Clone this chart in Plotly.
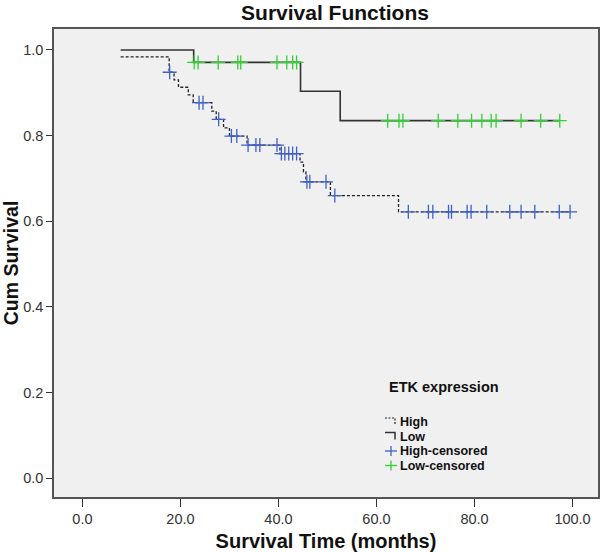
import plotly.graph_objects as go

# ---- data ----
start_time = 7.8

high_event_times = [7.8, 17.7, 18.7, 19.6, 21.6, 22.6, 26.4, 27.3, 28.8, 30.0,
                    33.6, 40.3, 44.4, 45.1, 45.6, 50.6, 64.5]
high_surv = [0.984, 0.948, 0.930, 0.913, 0.895, 0.877, 0.857, 0.838, 0.818, 0.799,
             0.778, 0.758, 0.738, 0.715, 0.692, 0.660, 0.622]
high_censor = [17.8, 23.8, 24.6, 27.8, 30.4, 31.5, 33.8, 35.4, 36.2, 39.7, 40.6,
               41.3, 42.1, 42.9, 43.7, 45.8, 46.4, 49.7, 51.5, 66.5, 70.6, 71.5,
               74.7, 75.3, 78.5, 79.3, 82.5, 87.2, 89.5, 92.3, 97.3, 99.5]

low_event_times = [22.7, 44.5, 52.6]
low_surv = [0.971, 0.9035, 0.835]
low_censor = [22.8, 23.6, 27.7, 31.7, 32.3, 39.7, 41.7, 42.9, 43.7, 62.3, 64.6,
              65.4, 72.6, 76.6, 79.4, 81.5, 83.4, 84.4, 89.5, 93.5, 97.4]

x_ticks = [0, 20, 40, 60, 80, 100]
y_ticks = [0.0, 0.2, 0.4, 0.6, 0.8, 1.0]

legend_title = "ETK expression"
legend_labels = ["High", "Low", "High-censored", "Low-censored"]


def step_curve(t0, s0, times, surv, t_end):
    xs, ys = [t0], [s0]
    for t, s in zip(times, surv):
        if t == t0:
            ys[-1] = s
            continue
        xs.append(t)
        ys.append(s)
    xs.append(t_end)
    ys.append(ys[-1])
    return xs, ys


def level_at(t, t0, s0, times, surv):
    s = s0
    for tt, ss in zip(times, surv):
        if tt <= t:
            s = ss
    return s


hx, hy = step_curve(start_time, 1.0, high_event_times, high_surv, max(high_censor))
lx, ly = step_curve(start_time, 1.0, low_event_times, low_surv, max(low_censor))

hcy = [level_at(t, start_time, 1.0, high_event_times, high_surv) for t in high_censor]
lcy = [level_at(t, start_time, 1.0, low_event_times, low_surv) for t in low_censor]

FONT = "Liberation Sans, Arial, sans-serif"
BLUE = "#3f5fc8"
GREEN = "#2fd32f"
LINE_H = "#222222"
LINE_L = "#333333"

# plot-area geometry (pixels) used for placing the hand-made legend
W, H = 600, 552
ML, MR, MT, MB = 54, 2, 29, 55
PW, PH = W - ML - MR, H - MT - MB


def px(x):
    return (x - ML) / PW


def py(y):
    return (H - MB - y) / PH


fig = go.Figure()
fig.add_trace(go.Scatter(x=hx, y=hy, mode="lines", line_shape="hv", name="High",
                         line=dict(color=LINE_H, width=1.3, dash="3px,2px")))
fig.add_trace(go.Scatter(x=lx, y=ly, mode="lines", line_shape="hv", name="Low",
                         line=dict(color=LINE_L, width=1.6)))
fig.add_trace(go.Scatter(x=high_censor, y=hcy, mode="markers", name="High-censored",
                         marker=dict(symbol="cross-thin", size=10,
                                     line=dict(color=BLUE, width=1.3))))
fig.add_trace(go.Scatter(x=low_censor, y=lcy, mode="markers", name="Low-censored",
                         marker=dict(symbol="cross-thin", size=10,
                                     line=dict(color=GREEN, width=1.3))))

# ---- hand-made legend (compact spacing like the reference) ----
TITLE_Y = 387
row_y = [422, 436.5, 451, 465.5]
annotations = [dict(text="<b>" + legend_title + "</b>", xref="paper", yref="paper",
                    x=px(387), y=py(TITLE_Y), xanchor="left", yanchor="middle",
                    showarrow=False, font=dict(size=14.5, color="#111111"))]
shapes = []
for lab, yy in zip(legend_labels, row_y):
    annotations.append(dict(text="<b>" + lab + "</b>", xref="paper", yref="paper",
                            x=px(398), y=py(yy), xanchor="left", yanchor="middle",
                            showarrow=False, font=dict(size=12.5, color="#111111")))

# step symbols for the line entries
for yy, col, dash, wd in [(row_y[0], LINE_H, "2px,1.5px", 1.2), (row_y[1], LINE_L, "solid", 1.5)]:
    shapes.append(dict(type="path", xref="paper", yref="paper",
                       path=f"M {px(385)} {py(yy - 4)} L {px(395)} {py(yy - 4)} L {px(395)} {py(yy + 3)}",
                       line=dict(color=col, width=wd, dash=dash)))
# cross symbols for the censored entries
for yy, col in [(row_y[2], BLUE), (row_y[3], GREEN)]:
    shapes.append(dict(type="line", xref="paper", yref="paper",
                       x0=px(385), x1=px(397), y0=py(yy), y1=py(yy),
                       line=dict(color=col, width=1.3)))
    shapes.append(dict(type="line", xref="paper", yref="paper",
                       x0=px(391), x1=px(391), y0=py(yy - 5), y1=py(yy + 5),
                       line=dict(color=col, width=1.3)))

fig.update_layout(
    width=W, height=H,
    margin=dict(l=ML, r=MR, t=MT, b=MB, autoexpand=False),
    paper_bgcolor="white",
    plot_bgcolor="#f0f0f0",
    font=dict(family=FONT, size=12, color="#222222"),
    title=dict(text="<b>Survival Functions</b>", x=335 / W, xanchor="center",
               y=1 - 12.5 / H, yanchor="middle", xref="container", yref="container",
               font=dict(size=21, color="#111111")),
    showlegend=False,
    annotations=annotations,
    shapes=shapes,
    xaxis=dict(
        range=[-5.8, 105.2], tickvals=x_ticks, tickformat=".1f",
        ticks="outside", ticklen=8, tickcolor="#333333", tickwidth=1,
        showgrid=False, zeroline=False, automargin=False,
        showline=True, linecolor="#555555", linewidth=1.5, mirror=True,
        tickfont=dict(size=14.5, color="#333333"),
        title=dict(text="<b>Survival Time (months)</b>",
                   font=dict(size=20, color="#111111"), standoff=8),
    ),
    yaxis=dict(
        range=[-0.044, 1.049], tickvals=y_ticks, tickformat=".1f",
        ticks="outside", ticklen=6, tickcolor="#333333", tickwidth=1,
        showgrid=False, zeroline=False, automargin=False,
        showline=True, linecolor="#555555", linewidth=1.5, mirror=True,
        tickfont=dict(size=14.5, color="#333333"),
        title=dict(text="<b>Cum Survival</b>",
                   font=dict(size=19.5, color="#111111"), standoff=3),
    ),
)

fig.write_html("out.html",
               config={"displayModeBar": False},
               post_script="document.body.style.margin='0';document.body.style.overflow='hidden';")
